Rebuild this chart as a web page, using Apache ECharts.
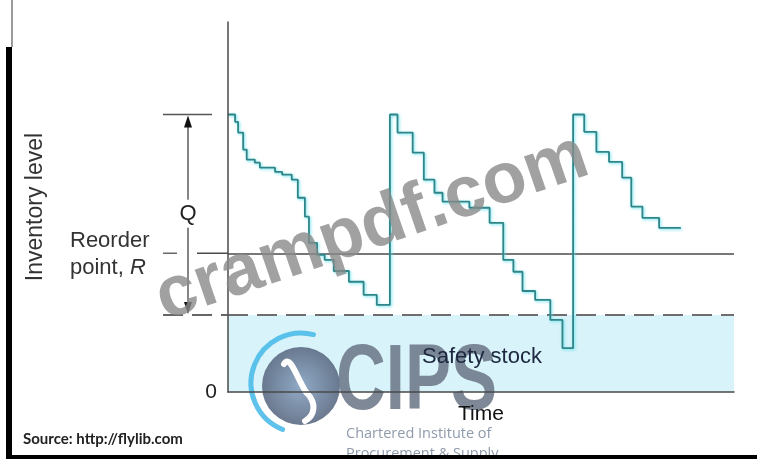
<!DOCTYPE html>
<html>
<head>
<meta charset="utf-8">
<script src="https://cdn.jsdelivr.net/npm/echarts@6/dist/echarts.min.js"></script>
<style>
html,body{margin:0;padding:0;background:#fff;}
#chart{width:761px;height:459px;}
</style>
</head>
<body>
<div id="chart"></div>
<script>
// ---- data (time units 0..100, inventory units 0..96) ----
const stepTime  = [0.0, 1.4, 2.0, 3.0, 3.7, 5.3, 6.3, 9.3, 10.7, 12.6, 13.8, 15.2, 16.0, 17.6, 19.1, 20.9, 23.9, 26.8, 29.4,
                   32.0, 33.5, 36.5, 38.7, 40.8, 42.4, 47.7, 51.7, 54.4, 56.4, 58.2, 60.7, 63.7, 66.1,
                   68.2, 70.4, 72.8, 75.3, 77.9, 79.7, 81.9, 85.2, 89.5];
const stepLevel = [72.0, 70.1, 67.3, 62.9, 60.3, 59.5, 58.2, 57.1, 56.4, 55.1, 50.4, 45.5, 38.7, 35.6, 34.3, 31.4, 28.6, 25.2, 22.6,
                   72.0, 67.3, 62.1, 55.1, 51.7, 49.4, 47.8, 43.9, 34.3, 31.2, 26.2, 23.9, 18.7, 11.4,
                   72.0, 67.5, 62.3, 59.7, 55.6, 48.1, 45.2, 42.6, 42.6];
const orderQtyTop  = 72;   // top of Q
const reorderPoint = 36;   // R
const safetyStock  = 20;
const timeMax  = 100;
const levelMax = 96;
const yTickLabels = ['0'];

const FONT = 'Liberation Sans, Arial, sans-serif';
const chart = echarts.init(document.getElementById('chart'));

const option = {
  animation: false,
  backgroundColor: '#ffffff',
  grid: { left: 228, right: 27, top: 22, bottom: 67, containLabel: false },
  xAxis: {
    type: 'value', min: 0, max: timeMax, z: 10,
    name: 'Time', nameLocation: 'middle', nameGap: 12,
    nameTextStyle: { fontFamily: FONT, fontSize: 21, color: '#111', verticalAlign: 'top' },
    axisLine: { show: true, lineStyle: { color: '#4a4a4a', width: 1.5 } },
    axisTick: { show: false }, axisLabel: { show: false }, splitLine: { show: false }
  },
  yAxis: {
    type: 'value', min: 0, max: levelMax, interval: levelMax, z: 10,
    name: 'Inventory level', nameLocation: 'middle', nameGap: 181, nameRotate: 90,
    nameTextStyle: { fontFamily: FONT, fontSize: 23, color: '#333' },
    axisLine: { show: true, lineStyle: { color: '#4a4a4a', width: 1.5 } },
    axisTick: { show: false },
    axisLabel: { show: true, margin: 11, fontFamily: FONT, fontSize: 21, color: '#222',
      formatter: v => (v === 0 ? yTickLabels[0] : '') },
    splitLine: { show: false }
  },
  series: [{
    type: 'line', step: 'end', symbol: 'none', z: 5,
    data: stepTime.map((t, i) => [t, stepLevel[i]]),
    lineStyle: { color: '#2f8587', width: 1.8, shadowColor: 'rgba(90,225,240,0.9)', shadowBlur: 3, shadowOffsetX: 1, shadowOffsetY: 1 },
    markArea: {
      silent: true,
      itemStyle: { color: '#d8f3f9' },
      data: [[{ xAxis: 0, yAxis: 0 }, { xAxis: timeMax, yAxis: safetyStock }]]
    },
    markLine: {
      silent: true, symbol: 'none', label: { show: false },
      data: [
        { yAxis: reorderPoint, lineStyle: { color: '#4a4a4a', width: 1.5, type: 'solid' } },
        { yAxis: safetyStock, lineStyle: { color: '#6e6e6e', width: 2, type: [20, 9] } }
      ]
    }
  }]
};
chart.setOption(option);

const py = v => chart.convertToPixel({ gridIndex: 0 }, [0, v])[1];
const px = t => chart.convertToPixel({ gridIndex: 0 }, [t, 0])[0];
const yTop = py(orderQtyTop), yR = py(reorderPoint), yS = py(safetyStock), y0 = py(0);
const xA = px(0), xE = px(timeMax);
const qx = 188;

const g = [];
// Q bracket
g.push({ type: 'line', z: 20, shape: { x1: 163, y1: yTop, x2: 212, y2: yTop }, style: { stroke: '#555', lineWidth: 1.5 } });
g.push({ type: 'line', z: 20, shape: { x1: qx, y1: yTop + 8, x2: qx, y2: yS - 8 }, style: { stroke: '#444', lineWidth: 1.3 } });
g.push({ type: 'polygon', z: 20, shape: { points: [[qx, yTop + 1], [qx - 4, yTop + 13], [qx + 4, yTop + 13]] }, style: { fill: '#111' } });
g.push({ type: 'polygon', z: 20, shape: { points: [[qx, yS - 1], [qx - 4, yS - 13], [qx + 4, yS - 13]] }, style: { fill: '#111' } });
g.push({ type: 'text', z: 21, x: qx, y: (yTop + yS) / 2 - 1,
  style: { text: 'Q', fontFamily: FONT, fontSize: 22, fill: '#222', align: 'center', verticalAlign: 'middle',
           backgroundColor: '#fff', padding: [3, 1] } });
// reorder line, left part
g.push({ type: 'line', z: 20, shape: { x1: 163, y1: yR, x2: 177, y2: yR }, style: { stroke: '#666', lineWidth: 1.5 } });
g.push({ type: 'line', z: 20, shape: { x1: 197, y1: yR, x2: xA, y2: yR }, style: { stroke: '#4a4a4a', lineWidth: 1.5 } });
// safety stock line, left part
g.push({ type: 'line', z: 20, shape: { x1: 163, y1: yS, x2: xA, y2: yS }, style: { stroke: '#666', lineWidth: 2, lineDash: [20, 9] } });
// labels
g.push({ type: 'text', z: 20, x: 70, y: 241, style: { text: 'Reorder', fontFamily: FONT, fontSize: 22, fill: '#333', verticalAlign: 'middle' } });
g.push({ type: 'text', z: 20, x: 70, y: 268, style: { text: '{a|point, }{b|R}', fontFamily: FONT, fontSize: 22, fill: '#333', verticalAlign: 'middle',
  rich: { a: { fontFamily: FONT, fontSize: 22, fill: '#333' }, b: { fontFamily: FONT, fontSize: 22, fill: '#333', fontStyle: 'italic' } } } });

// CIPS watermark
const cx = 301, cy = 386;
g.push({ type: 'arc', z: 6, shape: { cx: cx, cy: cy - 3, r: 50, startAngle: Math.PI * 0.62, endAngle: Math.PI * 1.58 },
  style: { stroke: '#4cbbe8', lineWidth: 5, fill: null, lineCap: 'round', opacity: 0.9 } });
g.push({ type: 'circle', z: 6, shape: { cx: cx, cy: cy, r: 39 },
  style: { fill: new echarts.graphic.RadialGradient(0.5, 0.5, 0.6, [{ offset: 0, color: '#8aa4c2' }, { offset: 1, color: '#56637a' }]), opacity: 0.92 } });
g.push({ type: 'bezierCurve', z: 7, shape: { x1: 284, y1: 364, cpx1: 290, cpy1: 354, cpx2: 296, cpy2: 376, x2: 306, y2: 392 },
  style: { stroke: '#fff', lineWidth: 6, fill: null, lineCap: 'round' } });
g.push({ type: 'bezierCurve', z: 7, shape: { x1: 306, y1: 392, cpx1: 318, cpy1: 404, cpx2: 314, cpy2: 416, x2: 305, y2: 421 },
  style: { stroke: '#fff', lineWidth: 6, fill: null, lineCap: 'round' } });
g.push({ type: 'text', z: 6, x: 336, y: 384, scaleX: 0.75,
  style: { text: 'CIPS', fontFamily: FONT, fontWeight: 'bold', fontSize: 92, fill: '#6c7789', opacity: 0.88, verticalAlign: 'middle' } });
g.push({ type: 'text', z: 6, x: 346, y: 434, style: { text: 'Chartered Institute of', fontFamily: 'Open Sans, sans-serif', fontSize: 14.5, fill: '#8f9bab', verticalAlign: 'middle' } });
g.push({ type: 'text', z: 6, x: 346, y: 454, style: { text: 'Procurement & Supply', fontFamily: 'Open Sans, sans-serif', fontSize: 14.5, fill: '#8f9bab', verticalAlign: 'middle' } });
// chart labels drawn over the watermark
g.push({ type: 'text', z: 22, x: (xA + xE) / 2 + 1, y: (yS + y0) / 2 + 3,
  style: { text: 'Safety stock', fontFamily: FONT, fontSize: 22, fill: '#1d2740', align: 'center', verticalAlign: 'middle' } });

// crampdf watermark
g.push({ type: 'text', z: 30, x: 372, y: 228, rotation: 19 * Math.PI / 180,
  style: { text: 'crampdf.com', fontFamily: FONT, fontWeight: 'bold', fontSize: 72, fill: '#8a8a8a', opacity: 0.8,
           align: 'center', verticalAlign: 'middle' } });

// frame of the screenshot
g.push({ type: 'line', z: 40, shape: { x1: 12, y1: 0, x2: 12, y2: 47 }, style: { stroke: '#9a9a9a', lineWidth: 2 } });
g.push({ type: 'rect', z: 40, shape: { x: 6, y: 47, width: 6, height: 412 }, style: { fill: '#000' } });
g.push({ type: 'rect', z: 40, shape: { x: 6, y: 455, width: 751, height: 4 }, style: { fill: '#000' } });
g.push({ type: 'text', z: 40, x: 23, y: 439, style: { text: 'Source: http://flylib.com', fontFamily: 'Lato, sans-serif', fontWeight: 'bold', fontSize: 15, fill: '#222', verticalAlign: 'middle' } });

chart.setOption({ graphic: { elements: g } });
</script>
</body>
</html>
